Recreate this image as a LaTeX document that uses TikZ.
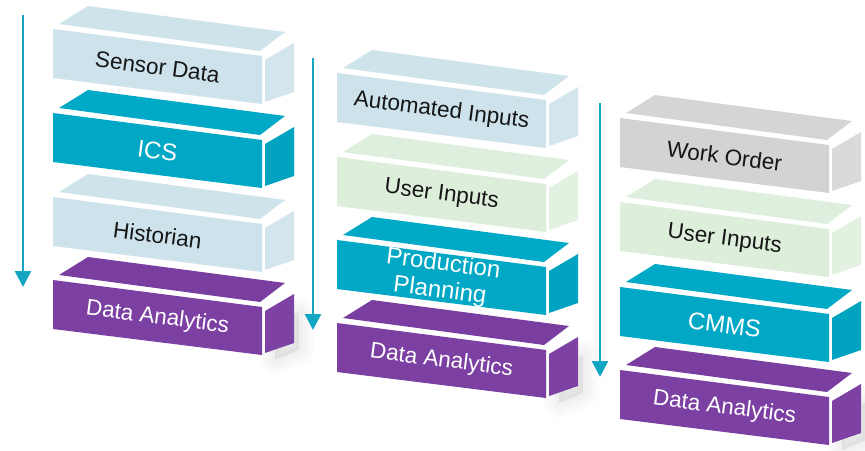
\documentclass[tikz,border=0pt]{standalone}
\usepackage{fontspec}
\setmainfont{Liberation Sans}
\usetikzlibrary{arrows.meta}
\definecolor{lbF}{HTML}{CDE2EA}
\definecolor{lbT}{HTML}{CFE3EB}
\definecolor{lbS}{HTML}{D3E6EE}
\definecolor{cyF}{HTML}{00A8C5}
\definecolor{cyT}{HTML}{00A9C6}
\definecolor{cyS}{HTML}{00A4C0}
\definecolor{puF}{HTML}{7B40A1}
\definecolor{puT}{HTML}{7A3EA0}
\definecolor{puS}{HTML}{7D42A3}
\definecolor{grF}{HTML}{D3D3D3}
\definecolor{grT}{HTML}{D5D5D5}
\definecolor{grS}{HTML}{DADADA}
\definecolor{gnF}{HTML}{DDEEDB}
\definecolor{gnT}{HTML}{DFEFDD}
\definecolor{gnS}{HTML}{E2F1E0}
\definecolor{arrowc}{HTML}{12A6C3}
\definecolor{darktext}{HTML}{161616}
\tikzset{
  boxtext/.style={inner sep=0pt, align=center, rotate=-7.36},
  smalltext/.style={font=\fontsize{22.5}{26}\selectfont},
  bigtext/.style={font=\fontsize{24}{27}\selectfont},
  flowarrow/.style={draw=arrowc, line width=2.5pt, -{Triangle[width=16pt,length=16pt]}},
}
% #1 name, #2 x, #3 y, #4 front, #5 top, #6 side, #7 text style, #8 text colour, #9 text
\newcommand\layerbox[9]{%
  \begin{scope}[shift={(#2,#3)}]
    \fill[#5] (6,-5) -- (207,22) -- (232,3) -- (35,-23) -- cycle;
    \fill[#6] (212,31) -- (241,14) -- (241,63) -- (212,73) -- cycle;
    \fill[#4] (0,0) -- (209,27) -- (209,75) -- (0,49) -- cycle;
    \begin{scope}
      \clip (0,0) -- (209,27) -- (209,75) -- (0,49) -- cycle;
      \node[boxtext, #7, text=#8] (#1) at (104.5,38) {#9};
    \end{scope}
  \end{scope}}
\newcommand\softshadow[2]{%
  \begin{scope}[shift={(#1,#2)}]
    \foreach \w in {30,24,18,12,6}
      \filldraw[black, opacity=0.012, line width=\w pt, line join=round]
        (222,44) -- (246,32) -- (246,70) -- (222,80) -- cycle;
  \end{scope}}
\begin{document}
\begin{tikzpicture}[x=1pt,y=-1pt]
\useasboundingbox (0,0) rectangle (865,450);
\fill[white] (0,0) rectangle (865,450);
% shadows
\softshadow{53}{280}
\softshadow{337}{323}
\softshadow{620}{370}
% stack 1
\layerbox{s1a}{53}{29}{lbF}{lbT}{lbS}{smalltext}{darktext}{Sensor Data}
\layerbox{s1b}{53}{113}{cyF}{cyT}{cyS}{bigtext}{white}{ICS}
\layerbox{s1c}{53}{197}{lbF}{lbT}{lbS}{smalltext}{darktext}{Historian}
\layerbox{s1d}{53}{280}{puF}{puT}{puS}{smalltext}{white}{Data Analytics}
% stack 2
\layerbox{s2a}{337}{73}{lbF}{lbT}{lbS}{smalltext}{darktext}{Automated Inputs}
\layerbox{s2b}{337}{157}{gnF}{gnT}{gnS}{smalltext}{darktext}{User Inputs}
\layerbox{s2c}{337}{240}{cyF}{cyT}{cyS}{bigtext}{white}{Production\\Planning}
\layerbox{s2d}{337}{323}{puF}{puT}{puS}{smalltext}{white}{Data Analytics}
% stack 3
\layerbox{s3a}{620}{118}{grF}{grT}{grS}{smalltext}{darktext}{Work Order}
\layerbox{s3b}{620}{202}{gnF}{gnT}{gnS}{smalltext}{darktext}{User Inputs}
\layerbox{s3c}{620}{287}{cyF}{cyT}{cyS}{bigtext}{white}{CMMS}
\layerbox{s3d}{620}{370}{puF}{puT}{puS}{smalltext}{white}{Data Analytics}
% arrows
\coordinate (a1s) at (23,15);  \coordinate (a1e) at (23,287);
\coordinate (a2s) at (313,58); \coordinate (a2e) at (313,330);
\coordinate (a3s) at (600,103); \coordinate (a3e) at (600,377);
\draw[flowarrow] (a1s) -- (a1e);
\draw[flowarrow] (a2s) -- (a2e);
\draw[flowarrow] (a3s) -- (a3e);
\end{tikzpicture}
\end{document}
